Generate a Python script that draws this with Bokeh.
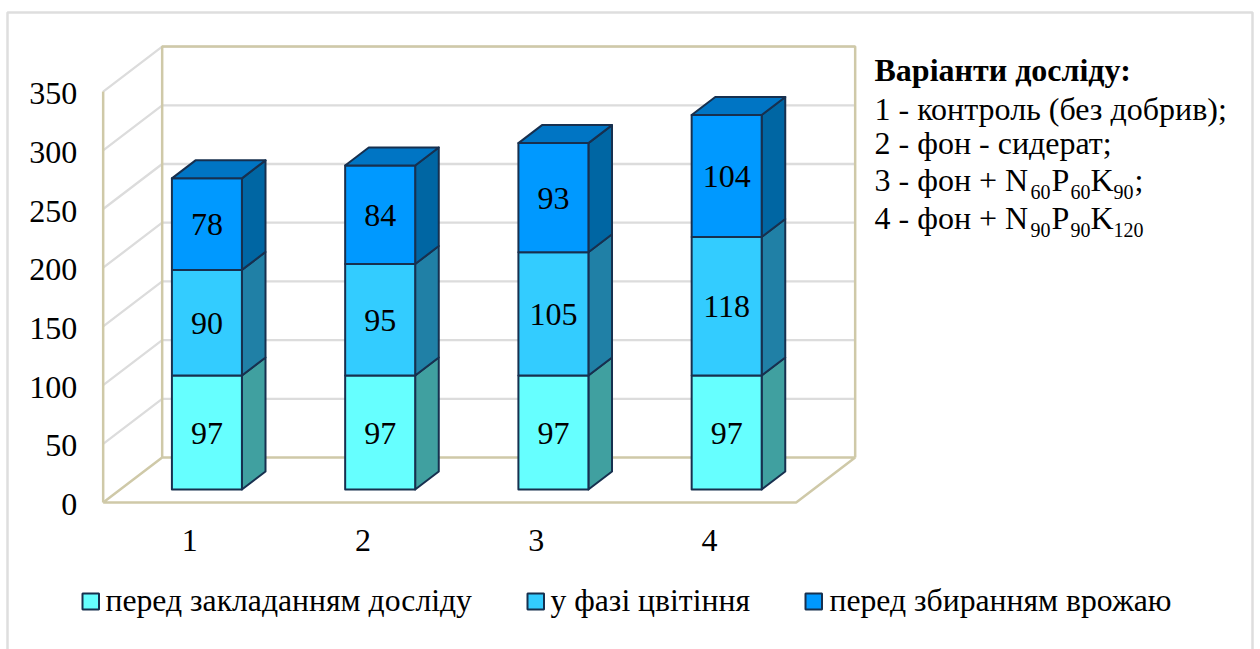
from bokeh.plotting import figure
from bokeh.models import Range1d, FixedTicker
from bokeh.core.properties import value
from bokeh.embed import file_html
from bokeh.resources import INLINE

# Data
variants = [1, 2, 3, 4]
before_setup = [97, 97, 97, 97]
flowering = [90, 95, 105, 118]
before_harvest = [78, 84, 93, 104]
value_ticks = [0, 50, 100, 150, 200, 250, 300, 350]
series_names = ["перед закладанням досліду", "у фазі цвітіння", "перед збиранням врожаю"]

# Styles
FRONT = ["#66FFFF", "#33CCFF", "#0099FF"]
SIDE = ["#40A0A0", "#2080A6", "#0066A3"]
TOP = "#0075C4"
EDGE = "#17304F"
WALL = "#CFC9A8"
GRID = "#DCDCDC"
SERIF = value("Liberation Serif")

# Scale and oblique projection
W, H = 1260, 649
PX_PER_CAT = 173.25
PX_PER_VAL = 1.174
ORIGIN_X, ORIGIN_Y = 189.3, 502
DEPTH_X = 59 / PX_PER_CAT
DEPTH_Y = 45 / PX_PER_VAL
BAR_W = 0.404
BAR_D0, BAR_D1 = 0.29, 0.69
TICK_LABEL_DROP = 2


def wx(px):
    return 1 + (px - ORIGIN_X) / PX_PER_CAT


def wy(py):
    return (ORIGIN_Y - py) / PX_PER_VAL


def proj(cat, val, depth=0.0):
    return cat + depth * DEPTH_X, val + depth * DEPTH_Y


p = figure(width=W, height=H, output_backend="svg", toolbar_location=None,
           x_range=Range1d(wx(0), wx(W)), y_range=Range1d(wy(H), wy(0)),
           min_border=0, outline_line_color=None)
p.extra_y_ranges = {"tick_labels": Range1d(wy(H - TICK_LABEL_DROP), wy(-TICK_LABEL_DROP))}
p.grid.visible = False
p.background_fill_color = "white"
p.border_fill_color = "white"

# Chart area border
p.line([wx(7), wx(7), wx(1252), wx(1252)], [wy(H + 5), wy(12), wy(12), wy(H + 5)],
       line_color="#DEDEDE", line_width=2.5)

# Floor, side wall and back wall
x0, x1 = 0.5, 4.5
top = value_ticks[-1]
for v in value_ticks[1:]:
    a = proj(x0, v, 0)
    b = proj(x0, v, 1)
    c = proj(x1, v, 1)
    p.line([a[0], b[0], c[0]], [a[1], b[1], c[1]], line_color=GRID, line_width=2.3)
corners = [proj(x0, 0, 0), proj(x1, 0, 0), proj(x1, 0, 1), proj(x0, 0, 1), proj(x0, 0, 0)]
p.line([c[0] for c in corners], [c[1] for c in corners], line_color=WALL, line_width=2.5)
a, b = proj(x0, 0, 0), proj(x0, top, 0)
p.line([a[0], b[0]], [a[1], b[1]], line_color=WALL, line_width=2.5)
back = [proj(x0, 0, 1), proj(x0, top, 1), proj(x1, top, 1), proj(x1, 0, 1)]
p.line([c[0] for c in back], [c[1] for c in back], line_color=WALL, line_width=2.5)


def poly(points, fill):
    p.patch([q[0] for q in points], [q[1] for q in points], fill_color=fill,
            line_color=EDGE, line_width=2, line_join="round")


# Stacked blocks
label_x, label_y, label_t = [], [], []
for i, cat in enumerate(variants):
    l, r = cat - BAR_W / 2, cat + BAR_W / 2
    base = 0
    stack = [before_setup[i], flowering[i], before_harvest[i]]
    for s, h in enumerate(stack):
        t = base + h
        poly([proj(r, base, BAR_D0), proj(r, base, BAR_D1), proj(r, t, BAR_D1), proj(r, t, BAR_D0)], SIDE[s])
        poly([proj(l, base, BAR_D0), proj(r, base, BAR_D0), proj(r, t, BAR_D0), proj(l, t, BAR_D0)], FRONT[s])
        cx, cy = proj(cat, base + h / 2, BAR_D0)
        label_x.append(cx)
        label_y.append(cy)
        label_t.append(str(h))
        base = t
    poly([proj(l, base, BAR_D0), proj(r, base, BAR_D0), proj(r, base, BAR_D1), proj(l, base, BAR_D1)], TOP)

p.text(label_x, label_y, text=label_t, text_font=SERIF, text_font_size="32px", text_color="black",
       text_align="center", text_baseline="middle", y_offset=0.5)

# Axes pinned to the front edges of the floor
yax = p.yaxis[0]
yax.y_range_name = "tick_labels"
yax.fixed_location = x0
yax.ticker = FixedTicker(ticks=value_ticks)
yax.axis_line_color = None
yax.major_tick_line_color = None
yax.minor_tick_line_color = None
yax.major_label_standoff = 20
yax.major_label_text_font = "Liberation Serif"
yax.major_label_text_font_size = "32px"
yax.major_label_text_color = "black"

xax = p.xaxis[0]
xax.fixed_location = 0
xax.ticker = FixedTicker(ticks=variants)
xax.axis_line_color = None
xax.major_tick_line_color = None
xax.minor_tick_line_color = None
xax.major_label_standoff = 21
xax.major_label_text_font = "Liberation Serif"
xax.major_label_text_font_size = "32px"
xax.major_label_text_color = "black"

# Legend row
legend_swatch_x = [82, 527, 805]
legend_text_x = [105, 550, 829]
for s, name in enumerate(series_names):
    sx = legend_swatch_x[s]
    p.quad(left=wx(sx), right=wx(sx + 16.5), top=wy(593), bottom=wy(609), fill_color=FRONT[s],
           line_color=EDGE, line_width=2)
    p.text([wx(legend_text_x[s])], [wy(600)], text=[name], text_font=SERIF, text_font_size="31.7px",
           text_color="black", text_align="left", text_baseline="middle")

# Explanatory note, with subscripted nutrient doses
note = [
    (874, 69, "Варіанти досліду:", 32, "bold"),
    (874, 108, "1 - контроль (без добрив);", 32, "normal"),
    (874, 142, "2 - фон - сидерат;", 32, "normal"),
    (874, 179, "3 - фон + N", 32, "normal"),
    (1030, 191, "60", 20, "normal"),
    (1051, 179, "P", 32, "normal"),
    (1070, 191, "60", 20, "normal"),
    (1090, 179, "K", 32, "normal"),
    (1113, 191, "90", 20, "normal"),
    (1134, 179, ";", 32, "normal"),
    (874, 217, "4 - фон + N", 32, "normal"),
    (1030, 229, "90", 20, "normal"),
    (1051, 217, "P", 32, "normal"),
    (1070, 229, "90", 20, "normal"),
    (1090, 217, "K", 32, "normal"),
    (1113, 229, "120", 20, "normal"),
]
for nx, ny, txt, size, style in note:
    p.text([wx(nx)], [wy(ny)], text=[txt], text_font=SERIF, text_font_size=f"{size}px",
           text_font_style=style, text_color="black", text_align="left", text_baseline="middle")

open("out.html", "w").write(file_html(p, INLINE))
